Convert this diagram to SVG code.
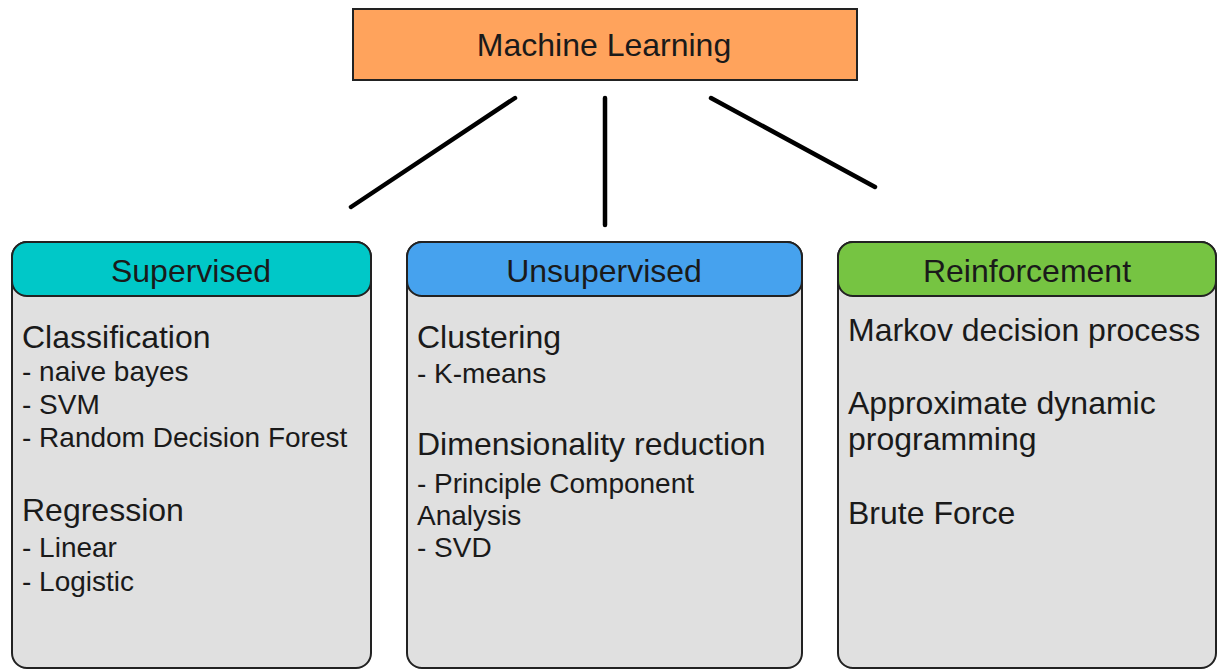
<svg xmlns="http://www.w3.org/2000/svg" width="1222" height="671" viewBox="0 0 1222 671">
  <style>
    text { font-family: "Liberation Sans", Arial, Helvetica, sans-serif; fill: #1a1a1a; }
    .title { font-size: 32px; text-anchor: middle; }
    .head { font-size: 32px; text-anchor: middle; }
    .h { font-size: 32px; }
    .s { font-size: 28px; }
    .body { fill: #e0e0e0; stroke: #222; stroke-width: 2; }
    .cap { stroke: #222; stroke-width: 2; }
    .link { stroke: #000; stroke-width: 4.5; stroke-linecap: round; fill: none; }
  </style>

  <rect width="1222" height="671" fill="#ffffff"/>

  <!-- root -->
  <g id="machine-learning">
    <rect x="353" y="9" width="504" height="71" fill="#ffa35c" stroke="#222" stroke-width="2"/>
    <text class="title" x="604" y="56">Machine Learning</text>
  </g>

  <!-- connectors -->
  <g id="connectors">
    <line class="link" x1="515" y1="98" x2="351" y2="207"/>
    <line class="link" x1="605" y1="98" x2="605" y2="225"/>
    <line class="link" x1="711" y1="98" x2="875" y2="187"/>
  </g>

  <!-- supervised -->
  <g id="supervised">
    <rect class="body" x="12" y="242" width="359" height="426" rx="15"/>
    <rect class="cap" x="12" y="242" width="359" height="54" rx="15" fill="#00c8c8"/>
    <text class="head" x="191" y="282">Supervised</text>
    <text class="h" x="22" y="348">Classification</text>
    <text class="s" x="22" y="381">- naive bayes</text>
    <text class="s" x="22" y="414">- SVM</text>
    <text class="s" x="22" y="447">- Random Decision Forest</text>
    <text class="h" x="22" y="521">Regression</text>
    <text class="s" x="22" y="557">- Linear</text>
    <text class="s" x="22" y="591">- Logistic</text>
  </g>

  <!-- unsupervised -->
  <g id="unsupervised">
    <rect class="body" x="407" y="242" width="395" height="426" rx="15"/>
    <rect class="cap" x="407" y="242" width="395" height="54" rx="15" fill="#46a2ee"/>
    <text class="head" x="604" y="282">Unsupervised</text>
    <text class="h" x="417" y="348">Clustering</text>
    <text class="s" x="417" y="383">- K-means</text>
    <text class="h" x="417" y="455">Dimensionality reduction</text>
    <text class="s" x="417" y="493">- Principle Component</text>
    <text class="s" x="417" y="525">Analysis</text>
    <text class="s" x="417" y="557">- SVD</text>
  </g>

  <!-- reinforcement -->
  <g id="reinforcement">
    <rect class="body" x="838" y="242" width="378" height="426" rx="15"/>
    <rect class="cap" x="838" y="242" width="378" height="54" rx="15" fill="#76c442"/>
    <text class="head" x="1027" y="282">Reinforcement</text>
    <text class="h" x="848" y="341">Markov decision process</text>
    <text class="h" x="848" y="414">Approximate dynamic</text>
    <text class="h" x="848" y="450">programming</text>
    <text class="h" x="848" y="524">Brute Force</text>
  </g>
</svg>
